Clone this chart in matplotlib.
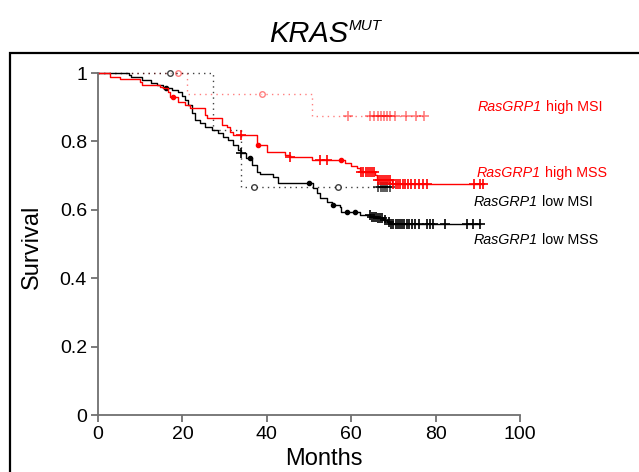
import numpy as np
import matplotlib.pyplot as plt
from matplotlib.patches import Rectangle

plt.rcParams['font.family'] = ['Liberation Sans', 'DejaVu Sans']

# RasGRP1 high / MSS  (event times in months, survival after each event)
high_mss_times = [2.8, 5.2, 10.0, 10.5, 14.7, 15.3, 16.7, 17.0, 19.0, 20.6, 21.8, 25.4, 25.8,
                  29.3, 30.5, 31.3, 32.0, 37.6, 40.0, 44.3, 45.5, 50.6, 58.5, 60.0, 61.3,
                  62.1, 65.6, 66.0, 69.6]
high_mss_surv = [0.989, 0.982, 0.975, 0.965, 0.960, 0.955, 0.945, 0.931, 0.916, 0.906, 0.897,
                 0.877, 0.867, 0.848, 0.843, 0.828, 0.819, 0.789, 0.770, 0.760, 0.755, 0.746,
                 0.736, 0.728, 0.721, 0.711, 0.702, 0.687, 0.675]
high_mss_cens = [34.0, 45.5, 52.7, 54.3, 62.4, 62.9, 63.4, 63.9, 64.4, 64.9, 65.3, 66.3, 66.8,
                 67.3, 67.8, 68.3, 68.8, 69.3, 70.0, 70.5, 71.0, 71.6, 72.2, 72.8, 73.5, 74.2,
                 75.0, 76.0, 77.0, 78.0, 89.0, 90.5, 91.3]
high_mss_dots = [17.8, 38.0, 57.7]

# RasGRP1 low / MSS
low_mss_times = [7.3, 7.8, 10.5, 12.5, 13.9, 15.5, 17.5, 19.0, 20.0, 20.6, 21.4, 22.2, 23.0,
                 24.2, 25.4, 27.0, 28.5, 29.7, 30.9, 32.0, 33.2, 34.0, 35.0, 36.5, 37.6, 38.5,
                 41.5, 42.7, 50.9, 51.8, 52.6, 54.2, 55.5, 57.3, 57.7, 62.1, 64.5, 66.0, 67.5,
                 68.4, 69.2]
low_mss_surv = [0.994, 0.989, 0.980, 0.972, 0.965, 0.955, 0.950, 0.944, 0.932, 0.921, 0.906,
                0.882, 0.863, 0.853, 0.843, 0.833, 0.824, 0.814, 0.804, 0.790, 0.775, 0.765,
                0.752, 0.730, 0.711, 0.704, 0.697, 0.677, 0.664, 0.650, 0.635, 0.624, 0.615,
                0.609, 0.594, 0.585, 0.580, 0.575, 0.570, 0.565, 0.558]
low_mss_cens = [34.0, 64.4, 64.9, 65.4, 65.9, 66.4, 66.9, 67.4, 67.9, 68.9, 69.5, 70.0, 70.5,
                71.0, 71.5, 72.0, 72.6, 73.2, 73.8, 74.5, 75.2, 76.0, 78.0, 78.7, 79.4, 82.2,
                87.4, 88.9, 90.5]
low_mss_dots = [16.0, 36.0, 50.0, 55.7, 58.9, 60.9]

# RasGRP1 high / MSI
high_msi_times = [21.0, 50.7]
high_msi_surv = [0.9375, 0.875]
high_msi_cens = [59.2, 64.5, 65.5, 66.3, 67.0, 67.8, 68.5, 69.2, 70.4, 73.0, 75.4, 77.3]
high_msi_dots = [19.0, 38.9]

# RasGRP1 low / MSI
low_msi_times = [27.3, 34.0]
low_msi_surv = [0.833, 0.667]
low_msi_cens = [66.4, 67.0, 67.5, 68.0, 68.6, 69.2]
low_msi_dots = [17.0, 37.0, 56.9]

gene = 'RasGRP1'
labels = [' high MSI', ' high MSS', ' low MSI', ' low MSS']
label_x = [90.0, 89.8, 89.1, 89.1]
label_y = [0.901, 0.708, 0.624, 0.512]
label_colors = ['#ff0000', '#ff0000', 'black', 'black']


def surv_at(t, times, surv):
    idx = np.searchsorted(times, t, side='right')
    return np.concatenate([[1.0], surv])[idx]


def km_curve(ax, times, surv, cens, dots, color, ls, alpha=1.0, dot_style='fill'):
    times = np.asarray(times)
    surv = np.asarray(surv)
    end = max(max(cens), times[-1])
    xs = np.concatenate([[0], times, [end]])
    ys = np.concatenate([[1.0], surv, [surv[-1]]])
    ax.step(xs, ys, where='post', color=color, linestyle=ls, linewidth=1.0,
            alpha=alpha, clip_on=False)
    ax.plot(cens, surv_at(cens, times, surv), '+', color=color, markersize=7,
            markeredgewidth=1.2, alpha=alpha, linestyle='none', clip_on=False)
    if dot_style == 'fill':
        ax.plot(dots, surv_at(dots, times, surv), 'o', color=color, markersize=3,
                alpha=alpha, linestyle='none', clip_on=False)
    else:
        ax.plot(dots, surv_at(dots, times, surv), 'o', markerfacecolor='white',
                markeredgecolor=color, markersize=4, markeredgewidth=1.0,
                alpha=alpha, linestyle='none', clip_on=False)


fig = plt.figure(figsize=(6.39, 4.72), dpi=100)
ax = fig.add_axes([98 / 639, 57 / 472, 422 / 639, 342 / 472])

dotted = (0, (1, 3))
km_curve(ax, high_msi_times, high_msi_surv, high_msi_cens, high_msi_dots,
         '#ff0000', dotted, alpha=0.5, dot_style='open')
km_curve(ax, low_msi_times, low_msi_surv, low_msi_cens, low_msi_dots,
         'black', dotted, alpha=0.75, dot_style='open')
km_curve(ax, low_mss_times, low_mss_surv, low_mss_cens, low_mss_dots, 'black', '-')
km_curve(ax, high_mss_times, high_mss_surv, high_mss_cens, high_mss_dots, '#ff0000', '-')

# group labels: italic gene name followed by the subgroup
for lab, xx, yy, col in zip(labels, label_x, label_y, label_colors):
    t = ax.text(xx, yy, gene, color=col, fontsize=10.3, fontstyle='italic',
                ha='left', va='center', clip_on=False)
    ax.annotate(lab, xy=(1, 0.5), xycoords=t, color=col, fontsize=10.3,
                ha='left', va='center')

ax.set_xlim(0, 100)
ax.set_ylim(0, 1)
ax.set_xticks([0, 20, 40, 60, 80, 100])
ax.set_yticks([0, 0.2, 0.4, 0.6, 0.8, 1.0])
ax.set_yticklabels(['0', '0.2', '0.4', '0.6', '0.8', '1'])
for side in ['top', 'right']:
    ax.spines[side].set_visible(False)
for side in ['left', 'bottom']:
    ax.spines[side].set_color('#707070')
    ax.spines[side].set_linewidth(1.3)
ax.tick_params(direction='out', length=5, width=1.3, color='#707070',
               labelsize=14, pad=3)
ax.set_facecolor('none')

fig.text(324 / 639, 1 - 459 / 472, 'Months', fontsize=17, ha='center', va='center')
fig.text(32 / 639, 1 - 247 / 472, 'Survival', fontsize=17, ha='center', va='center',
         rotation=90)

# title: KRAS with superscript MUT
fig.text(348 / 639, 1 - 42 / 472, 'KRAS', fontsize=21, fontstyle='italic',
         ha='right', va='baseline')
fig.text(349 / 639, 1 - 30 / 472, 'MUT', fontsize=11, fontstyle='italic',
         ha='left', va='baseline')

# frame around the panel
fig.patches.append(Rectangle((10 / 639, -0.1), 1.2, 0.1 + (1 - 53 / 472), fill=False,
                             edgecolor='black', linewidth=1.6, transform=fig.transFigure))

fig.savefig('out.png', dpi=100)
